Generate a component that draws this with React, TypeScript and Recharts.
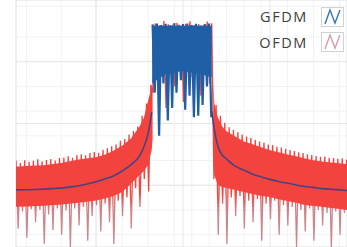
import { ComposedChart, Line, Area, XAxis, YAxis, CartesianGrid, Legend } from "recharts";

// spectrum, normalised frequency (units) vs power (dB)
const xDomain: [number, number] = [-19.2, 18.85];
const yDomain: [number, number] = [-80, 0];

const minorFreqTicks = [-19, -18, -17, -16, -15, -14, -13, -12, -11, -10, -9, -8, -7, -6, -5, -4, -3, -2, -1, 0, 1, 2, 3, 4, 5, 6, 7, 8, 9, 10, 11, 12, 13, 14, 15, 16, 17, 18];
const majorFreqTicks = [-10, 0, 10];
const minorDbTicks = [-78, -76, -74, -72, -70, -68, -66, -64, -62, -60, -58, -56, -54, -52, -50, -48, -46, -44, -42, -40, -38, -36, -34, -32, -30, -28, -26, -24, -22, -20, -18, -16, -14, -12, -10, -8, -6, -4, -2];
const majorDbTicks = [-60, -40, -20];

// FFT bins
const firstBin = -19.2;
const binWidth = 0.25;

// OFDM spectrum samples (alternating peaks / dips)
const ofdmLevels = [
  -52.0, -74, -52.8, -68.5, -51.9, -77, -52.4, -67.8, -52.1, -72,
  -51.6, -68, -52.3, -79, -51.8, -69.5, -51.5, -74.5, -52.0, -67.5,
  -51.2, -76, -51.0, -68.2, -50.6, -80, -51.1, -67.5, -50.2, -73,
  -50.0, -67, -50.3, -78, -49.6, -70, -49.2, -66.5, -49.5, -75,
  -48.5, -66, -48.0, -72, -47.4, -79, -46.8, -65, -45.6, -70,
  -45.0, -64, -43.6, -74, -42.4, -61, -41.0, -67, -37.5, -58,
  -33.5, -62, -27.5, -30, -7.6, -14, -8.2, -24, -6.8, -35,
  -7.9, -12, -8.0, -28, -7.4, -18, -8.3, -33, -7.7, -15,
  -6.9, -25, -8.1, -21, -7.8, -31, -8.2, -13, -7.0, -27,
  -7.5, -58, -34, -76, -37.5, -66, -39.8, -79, -41.2, -64,
  -42.0, -70, -42.8, -63.5, -43.6, -74, -44.2, -65, -44.6, -72,
  -45.3, -64.5, -45.8, -78, -46.2, -66, -46.8, -71, -47.0, -65,
  -47.5, -76, -47.8, -66.5, -48.2, -73, -48.6, -67, -48.9, -80,
  -49.3, -68, -49.6, -75, -50.0, -67.5, -50.2, -78, -50.5, -68,
  -50.8, -73, -50.7, -69, -51.1, -80, -51.2, -68.5, -51.4, -76,
  -51.3, -69, -51.7,
];

// OFDM solid band (lower / upper envelope)
const bandLeftFreq = [-19.2, -18, -16, -14, -12, -10, -9, -8, -7, -6, -5, -4.5, -4, -3.6, -3.5];
const bandLeftHi = [-54, -53.8, -53.5, -52.8, -51.7, -50.9, -50.1, -48.8, -47.2, -44.9, -41, -38.1, -32.5, -28, -25.5];
const bandLeftLo = [-67, -66.9, -66.6, -66.2, -65.7, -64.9, -64.3, -63.5, -62.2, -59.6, -56.7, -55.4, -53.4, -48.6, -45];
const bandRightFreq = [3.5, 3.6, 4, 4.5, 5, 6, 7, 8, 9, 10, 11, 12, 13, 14, 15, 16, 17, 18, 18.85];
const bandRightHi = [-27, -33.5, -38, -41, -42.5, -44.2, -45.8, -46.7, -47.7, -48.7, -49.3, -50, -50.6, -51.3, -51.9, -52.3, -52.6, -52.9, -53.2];
const bandRightLo = [-45, -56.7, -59.9, -60.6, -60.9, -61.5, -62.2, -62.8, -63.5, -63.8, -64.5, -65.1, -65.7, -66.4, -66.7, -67, -67.4, -67.7, -68];

// GFDM in-band samples
const gfdmFirstBin = -3.5;
const gfdmLevels = [
  -7.9, -30, -7.6, -44, -8.1, -27, -7.7, -39, -8.2, -35,
  -7.5, -30, -8.0, -26, -7.8, -35.5, -7.6, -31, -8.1, -38,
  -7.7, -37.5, -8.3, -34, -7.8, -28, -7.6, -38,
];
const gfdmBandFreq = [-3.55, -2, 0, 2, 3.3];
const gfdmBandHi = [-8.3, -8.3, -8.3, -8.3, -8.3];
const gfdmBandLo = [-27, -24, -23, -24, -25];

// GFDM out-of-band
const gfdmLeftFreq = [-19.2, -17, -15, -13, -11, -10, -9, -8, -7, -6, -5, -4.5, -4, -3.6];
const gfdmLeft = [-61.5, -61.4, -61.1, -60.6, -59.6, -58.9, -58.0, -57.0, -55.4, -53.4, -50.5, -47.6, -43.1, -36.3];
const gfdmRightFreq = [3.3, 3.6, 4, 4.5, 5, 6, 7, 8, 9, 10, 11, 12, 13, 14, 15, 16, 17, 18, 18.85];
const gfdmRight = [-36, -42.1, -47.3, -50.2, -51.5, -53.8, -55.1, -56.4, -57.3, -58.1, -58.8, -59.3, -59.9, -60.4, -60.7, -61.1, -61.3, -61.5, -61.7];

const legendNames = ["GFDM", "OFDM"];
const legendColors = ["#3677b3", "#d89ca6"];

const ofdmRows = ofdmLevels.map((level, i) => ({ freq: +(firstBin + i * binWidth).toFixed(2), level }));
const gfdmRows = gfdmLevels.map((level, i) => ({ freq: +(gfdmFirstBin + i * binWidth).toFixed(2), level }));
const bandLeftRows = bandLeftFreq.map((freq, i) => ({ freq, band: [bandLeftLo[i], bandLeftHi[i]] }));
const bandRightRows = bandRightFreq.map((freq, i) => ({ freq, band: [bandRightLo[i], bandRightHi[i]] }));
const gfdmBandRows = gfdmBandFreq.map((freq, i) => ({ freq, band: [gfdmBandLo[i], gfdmBandHi[i]] }));
const gfdmLeftRows = gfdmLeftFreq.map((freq, i) => ({ freq, level: gfdmLeft[i] }));
const gfdmRightRows = gfdmRightFreq.map((freq, i) => ({ freq, level: gfdmRight[i] }));

const RED = "#f3433f";
const BLUE = "#1f5fa6";
const NAVY = "#444580";

function LegendBox() {
  return (
    <div style={{ fontFamily: '"Open Sans", sans-serif', fontSize: 14.5, fontWeight: 500, letterSpacing: 1.6, color: "#404040" }}>
      {legendNames.map((name, i) => (
        <div key={name} style={{ display: "flex", alignItems: "center", justifyContent: "flex-end", height: 25.5 }}>
          <span>{name}</span>
          <svg width={23} height={20} style={{ marginLeft: 13 }}>
            <rect x={0.5} y={0.5} width={22} height={19} fill="#fff" stroke="#cfd2d6" />
            <polyline points="4,17 9,3 14,16 19,3" fill="none" stroke={legendColors[i]} strokeWidth={1.4} />
          </svg>
        </div>
      ))}
    </div>
  );
}

export default function App() {
  return (
    <div style={{ position: "absolute", left: 0, top: 0, width: 347, height: 247, background: "#fff" }}>
      <ComposedChart width={347} height={247} margin={{ top: 0, right: 0, bottom: 0, left: 16 }}>
        <defs>
          <linearGradient id="ofdmStroke" gradientUnits="userSpaceOnUse" x1="0" y1="0" x2="0" y2="247">
            <stop offset="0.78" stopColor={RED} />
            <stop offset="0.85" stopColor="#cd848b" />
          </linearGradient>
        </defs>
        <XAxis xAxisId="minor" type="number" dataKey="freq" domain={xDomain} ticks={minorFreqTicks} allowDataOverflow hide />
        <XAxis xAxisId="major" type="number" dataKey="freq" domain={xDomain} ticks={majorFreqTicks} allowDataOverflow hide />
        <YAxis yAxisId="minor" type="number" domain={yDomain} ticks={minorDbTicks} allowDataOverflow hide />
        <YAxis yAxisId="major" type="number" domain={yDomain} ticks={majorDbTicks} allowDataOverflow hide />
        <XAxis type="number" dataKey="freq" domain={xDomain} allowDataOverflow hide />
        <YAxis type="number" domain={yDomain} allowDataOverflow hide />
        <CartesianGrid xAxisId="minor" yAxisId="minor" stroke="#f1f2f5" />
        <CartesianGrid xAxisId="major" yAxisId="major" stroke="#e4e6ea" />

        <Line data={ofdmRows} dataKey="level" type="linear" stroke="url(#ofdmStroke)" strokeWidth={1.3}
          dot={false} activeDot={false} isAnimationActive={false} zIndex={410} />
        <Area data={bandLeftRows} dataKey="band" type="linear" fill={RED} fillOpacity={1} stroke="none"
          dot={false} activeDot={false} isAnimationActive={false} zIndex={420} />
        <Area data={bandRightRows} dataKey="band" type="linear" fill={RED} fillOpacity={1} stroke="none"
          dot={false} activeDot={false} isAnimationActive={false} zIndex={420} />
        <Line data={gfdmRows} dataKey="level" type="linear" stroke={BLUE} strokeWidth={2.2}
          dot={false} activeDot={false} isAnimationActive={false} zIndex={430} />
        <Area data={gfdmBandRows} dataKey="band" type="linear" fill={BLUE} fillOpacity={1} stroke="none"
          dot={false} activeDot={false} isAnimationActive={false} zIndex={440} />
        <Line data={gfdmLeftRows} dataKey="level" type="monotone" stroke={NAVY} strokeWidth={1.6}
          dot={false} activeDot={false} isAnimationActive={false} zIndex={450} />
        <Line data={gfdmRightRows} dataKey="level" type="monotone" stroke={NAVY} strokeWidth={1.6}
          dot={false} activeDot={false} isAnimationActive={false} zIndex={450} />

        <Legend layout="vertical" align="center" verticalAlign="middle"
          wrapperStyle={{ top: 4, left: 236, width: 108, height: 52 }}
          content={() => <LegendBox />} />
      </ComposedChart>
    </div>
  );
}
